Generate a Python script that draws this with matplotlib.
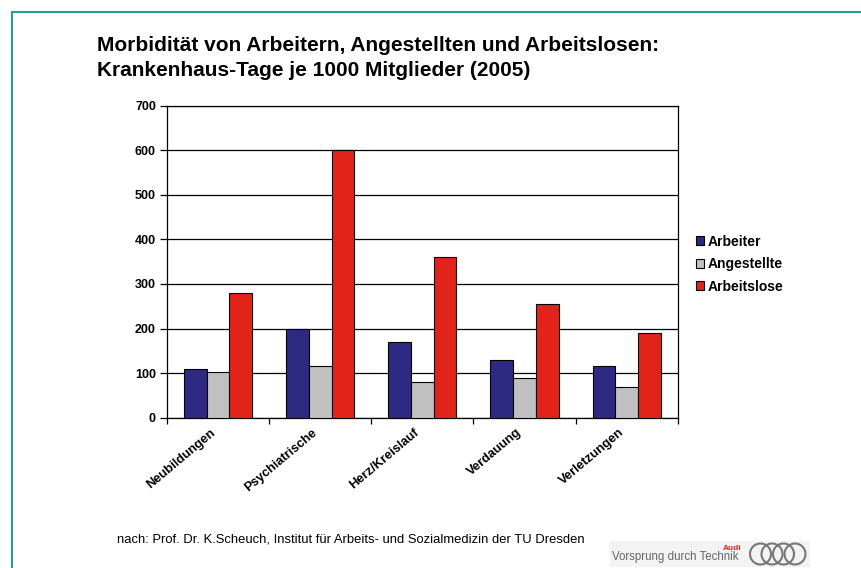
import matplotlib
matplotlib.use("Agg")
import matplotlib.pyplot as plt
import numpy as np
from matplotlib.patches import Rectangle, Circle

categories = ["Neubildungen", "Psychiatrische", "Herz/Kreislauf", "Verdauung", "Verletzungen"]
series_names = ["Arbeiter", "Angestellte", "Arbeitslose"]
arbeiter = [110, 200, 170, 130, 115]
angestellte = [103, 115, 80, 90, 70]
arbeitslose = [280, 600, 360, 255, 190]
yticks = [0, 100, 200, 300, 400, 500, 600, 700]

colors = ["#2e2a84", "#c0c0c0", "#e2231a"]
title_lines = ["Morbidität von Arbeitern, Angestellten und Arbeitslosen:",
               "Krankenhaus-Tage je 1000 Mitglieder (2005)"]
source = "nach: Prof. Dr. K.Scheuch, Institut für Arbeits- und Sozialmedizin der TU Dresden"

plt.rcParams['font.family'] = ['Liberation Sans', 'DejaVu Sans']

W, H = 862, 568
fig = plt.figure(figsize=(W / 100, H / 100), dpi=100)
fig.patch.set_facecolor("white")

# teal frame
fig.add_artist(Rectangle((12 / W, -0.1), 1.2, (H - 12) / H + 0.1, transform=fig.transFigure,
                         fill=False, edgecolor="#2a9d8c", linewidth=1.5))

ax = fig.add_axes([167 / W, (H - 417.7) / H, (677.7 - 167) / W, (417.7 - 105.7) / H])
x = np.arange(len(categories))
w = 1 / 4.5
data = [arbeiter, angestellte, arbeitslose]
for i, (vals, c, name) in enumerate(zip(data, colors, series_names)):
    ax.bar(x + (i - 1) * w, vals, width=w, color=c, edgecolor="black", linewidth=0.8,
           label=name, zorder=3)

ax.set_xlim(-0.5, len(categories) - 0.5)
ax.set_ylim(0, 700)
ax.set_yticks(yticks)
ax.set_yticklabels([str(t) for t in yticks], fontsize=9, fontweight="bold")
ax.yaxis.grid(True, color="black", linewidth=0.9, zorder=0)
ax.set_axisbelow(True)
for s in ax.spines.values():
    s.set_color("black")
    s.set_linewidth(0.9)
ax.tick_params(axis="y", length=5, width=0.9, pad=3)

ax.set_xticks(np.arange(-0.5, len(categories)), minor=False)
ax.set_xticklabels([])
ax.tick_params(axis="x", length=4, width=0.9)
for xi, lab in zip(x, categories):
    ax.text(xi - 0.08, -20, lab, rotation=40, rotation_mode="anchor", ha="right", va="top",
            fontsize=9.3, fontweight="bold")

leg = fig.legend(loc="upper left", bbox_to_anchor=(690 / W, (H - 229) / H), frameon=False,
                 prop={"size": 10, "weight": "bold"}, handlelength=0.6, handleheight=0.6,
                 handletextpad=0.3, labelspacing=0.62, borderaxespad=0)

fig.text(97 / W, (H - 45.5) / H, title_lines[0], fontsize=15, fontweight="bold", va="center", ha="left")
fig.text(97 / W, (H - 70.5) / H, title_lines[1], fontsize=15, fontweight="bold", va="center", ha="left")
fig.text(117 / W, (H - 540) / H, source, fontsize=9.4, va="center", ha="left")

# logo
fig.add_artist(Rectangle((610 / W, (H - 567) / H), 200 / W, 26 / H, transform=fig.transFigure,
                         facecolor="#f3f3f3", edgecolor="none", zorder=-1))
fig.text(612 / W, (H - 557) / H, "Vorsprung durch Technik", fontsize=8.3, color="#666666",
         va="center", ha="left")
fig.text(741 / W, (H - 548) / H, "Audi", fontsize=6, color="#e2231a", fontweight="bold",
         va="center", ha="right")
lax = fig.add_axes([749 / W, (H - 566) / H, 58 / W, 24 / H])
lax.set_xlim(0, 58)
lax.set_ylim(0, 24)
lax.set_aspect("equal")
lax.axis("off")
for k in range(4):
    lax.add_patch(Circle((11.5 + k * 11.5, 12), 10.5, fill=False, edgecolor="#777777", linewidth=1.5))

fig.savefig("out.png", dpi=100)
